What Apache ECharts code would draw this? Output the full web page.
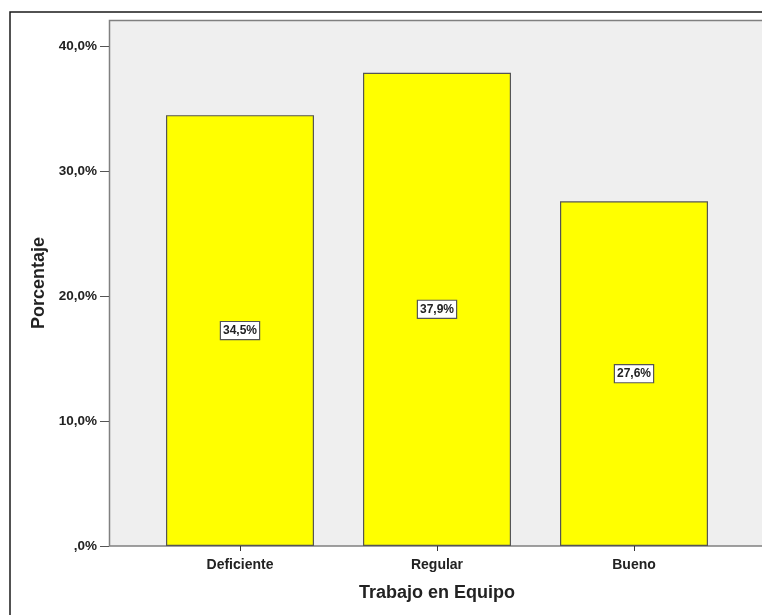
<!DOCTYPE html>
<html><head><meta charset="utf-8">
<script src="https://cdn.jsdelivr.net/npm/echarts@6/dist/echarts.min.js"></script>
<style>html,body{margin:0;padding:0;background:#fff}#c{width:762px;height:615px}</style>
</head><body><div id="c"></div>
<script>
const categories = ['Deficiente', 'Regular', 'Bueno'];
const values = [34.5, 37.9, 27.6];
const yTicks = [0, 10, 20, 30, 40];
const yMax = 42.12;

const fmt = v => (v === 0 ? ',0%' : v.toFixed(1).replace('.', ',') + '%');
const font = '"Liberation Sans", Arial, sans-serif';

const chart = echarts.init(document.getElementById('c'), null, {renderer: 'canvas'});
chart.setOption({
  animation: false,
  backgroundColor: '#fff',
  graphic: [
    {type: 'rect', z: -10, shape: {x: 10, y: 12, width: 800, height: 700},
     style: {fill: 'none', stroke: '#1a1a1a', lineWidth: 1.5}},
    {type: 'rect', z: -5, shape: {x: 109.5, y: 20.5, width: 700, height: 525.5},
     style: {fill: '#efefef', stroke: '#808080', lineWidth: 1.5}}
  ],
  grid: {left: 141.5, width: 591, top: 20, height: 526},
  xAxis: {
    type: 'category', data: categories,
    axisLine: {show: false},
    axisTick: {show: true, alignWithLabel: true, length: 5, lineStyle: {color: '#333'}},
    axisLabel: {color: '#222', fontFamily: font, fontWeight: 'bold', fontSize: 14, margin: 12},
    name: 'Trabajo en Equipo', nameLocation: 'middle', nameGap: 38,
    nameTextStyle: {color: '#222', fontFamily: font, fontWeight: 'bold', fontSize: 18}
  },
  yAxis: {
    type: 'value', min: 0, max: yMax, offset: 32.5,
    axisLine: {show: false},
    axisTick: {show: true, length: 9, customValues: yTicks, lineStyle: {color: '#555'}},
    splitLine: {show: false},
    axisLabel: {color: '#222', fontFamily: font, fontWeight: 'bold', fontSize: 13.5,
      margin: 12, customValues: yTicks, formatter: v => fmt(v)},
    name: 'Porcentaje', nameLocation: 'middle', nameGap: 57, nameRotate: 90,
    nameTextStyle: {color: '#222', fontFamily: font, fontWeight: 'bold', fontSize: 18}
  },
  series: [{
    type: 'bar', data: values, barWidth: 148,
    itemStyle: {color: '#ffff00', borderColor: '#555', borderWidth: 1.2},
    label: {show: true, position: 'inside', formatter: p => fmt(p.value),
      color: '#222', fontFamily: font, fontWeight: 'bold', fontSize: 12,
      backgroundColor: '#fff', borderColor: '#555', borderWidth: 1.2, padding: [3, 2, 2, 2]}
  }]
});
</script></body></html>
